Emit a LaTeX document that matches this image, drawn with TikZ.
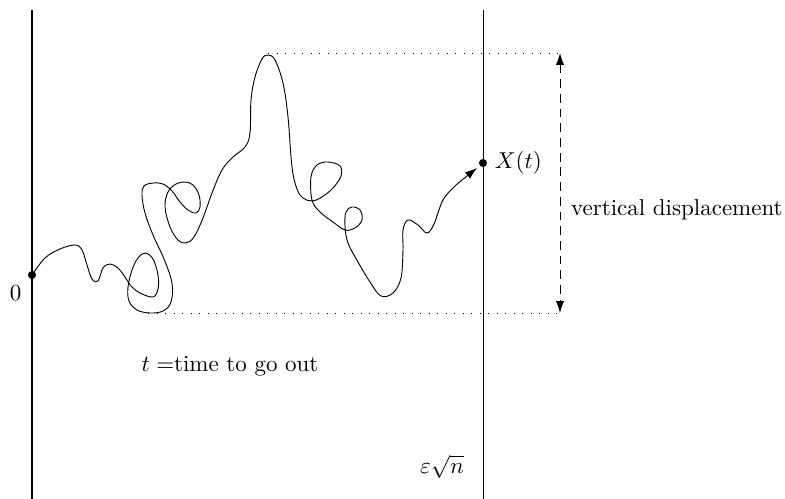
\documentclass[tikz,border=0pt]{standalone}
\usetikzlibrary{arrows.meta}
\begin{document}
\begin{tikzpicture}[
  x=0.435pt, y=-0.435pt,
  dot/.style={circle, fill, inner sep=0pt, minimum size=3.5pt},
  wall/.style={line width=0.8pt},
  guide/.style={dash pattern=on 0.5pt off 3.2pt},
  arr/.style={-{Latex[length=5.2pt,width=3.6pt]}},
  dbl/.style={{Latex[length=5.2pt,width=3.6pt]}-{Latex[length=5.2pt,width=3.6pt]}, dash pattern=on 3.8pt off 2.6pt}]
  \useasboundingbox (0,0) rectangle (785,499);
  % the two walls
  \draw[wall] (32,10) -- (32,499);
  \draw (483,10) -- (483,499);
  \node (bound) at (442,467) {$\varepsilon\sqrt{n}$};
  % start and exit points
  \node[dot, label={[inner sep=3pt]below left:$0$}] (start) at (32,275) {};
  \node[dot, label={[inner sep=3pt]right:$X(t)$}] (exit) at (483,163) {};
  \coordinate (peak) at (268,53);
  \coordinate (low) at (148,313);
  \coordinate (top) at (560,53);
  \coordinate (bot) at (560,313);
  % the path of the walk
  \draw[arr] plot[smooth, tension=0.6] coordinates {
    (start) (45,258) (60,249) (75,245) (82,250) (87,265) (92,279) (98,281)
    (103,268) (110,264) (118,268) (125,277) (131,286) (140,293) (153,297)
    (158,289) (158,275) (153,259) (145,253) (138,258) (132,270) (128,287)
    (129,301) (137,310) (150,313) (163,311) (171,302) (172,283) (164,259)
    (153,235) (145,213) (142,195) (144,186) (153,183) (163,184) (172,191)
    (180,202) (188,210) (196,213) (200,207) (199,195) (193,185) (185,182)
    (176,184) (168,192) (165,207) (170,227) (178,240) (186,243) (194,237)
    (203,218) (212,193) (222,170) (233,157) (245,147) (250,133) (251,100)
    (255,77) (262,59) (268,55) (275,60) (283,83) (288,117) (292,167)
    (297,189) (303,198) (312,201) (322,197) (333,188) (341,176) (340,166)
    (328,162) (317,165) (311,177) (312,200) (320,212) (333,222) (345,230)
    (355,228) (362,220) (360,210) (352,207) (346,212) (345,226) (348,243)
    (358,262) (370,282) (381,296) (393,293) (401,278) (403,250) (403,230)
    (408,220) (418,225) (427,233) (434,224) (443,200) (455,186) (467,176)
    (477,168)};
  % displacement
  \draw[guide] (peak) -- (top);
  \draw[guide] (low) -- (bot);
  \draw[dbl] (top) -- (bot);
  \node[anchor=west] (disp) at (563,210) {vertical displacement};
  \node (tout) at (230,366) {$t=$time to go out};
\end{tikzpicture}
\end{document}
